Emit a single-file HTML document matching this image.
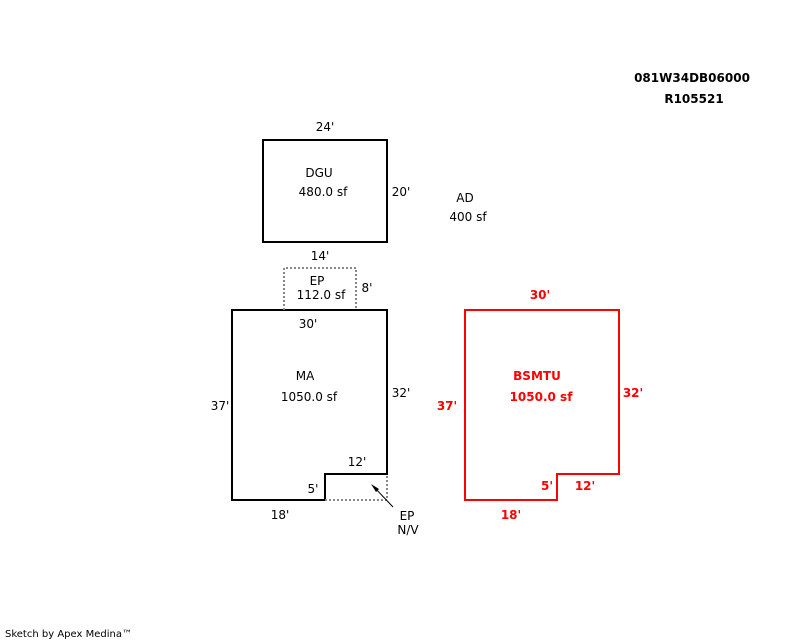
<!DOCTYPE html>
<html><head><style>html,body{margin:0;padding:0;background:#fff}svg{display:block}text{font-family:"DejaVu Sans",sans-serif;font-size:12px}</style></head>
<body>
<svg width="800" height="640" xmlns="http://www.w3.org/2000/svg">
<g fill="none" stroke="#000" stroke-width="2">
<rect x="263" y="140" width="124" height="102"/>
<polygon points="232,310 387,310 387,474 325,474 325,500 232,500"/>
</g>
<g fill="none" stroke="#888" stroke-width="2" stroke-dasharray="2,2">
<polyline points="284,310 284,268 356,268 356,310"/>
<polyline points="325,500 387,500 387,474"/>
</g>
<line x1="393" y1="507" x2="374" y2="487" stroke="#000" stroke-width="1"/>
<polygon points="371,484 379,489 376,492" fill="#000"/>
<polygon points="465,310 619,310 619,474 557,474 557,500 465,500" fill="none" stroke="#f00" stroke-width="2"/>
<g fill="#000" text-anchor="middle">
<text x="325" y="131">24'</text>
<text x="319" y="177">DGU</text>
<text x="323" y="196">480.0 sf</text>
<text x="401" y="196">20'</text>
<text x="465" y="202">AD</text>
<text x="468" y="221">400 sf</text>
<text x="320" y="260">14'</text>
<text x="317" y="285">EP</text>
<text x="321" y="299">112.0 sf</text>
<text x="367" y="292">8'</text>
<text x="308" y="328">30'</text>
<text x="305" y="380">MA</text>
<text x="309" y="401">1050.0 sf</text>
<text x="220" y="410">37'</text>
<text x="401" y="397">32'</text>
<text x="357" y="466">12'</text>
<text x="313" y="493">5'</text>
<text x="280" y="519">18'</text>
<text x="407" y="520">EP</text>
<text x="408" y="534">N/V</text>
</g>
<g fill="#f00" font-weight="bold" text-anchor="middle" style="font-weight:bold">
<text x="540" y="299">30'</text>
<text x="537" y="380">BSMTU</text>
<text x="541" y="401">1050.0 sf</text>
<text x="447" y="410">37'</text>
<text x="633" y="397">32'</text>
<text x="585" y="490">12'</text>
<text x="547" y="490">5'</text>
<text x="511" y="519">18'</text>
</g>
<g fill="#000" font-weight="bold" text-anchor="middle" style="font-weight:bold">
<text x="692" y="82">081W34DB06000</text>
<text x="694" y="103">R105521</text>
</g>
<text x="5" y="637" style="font-size:10px">Sketch by Apex Medina™</text>
</svg>
</body></html>
